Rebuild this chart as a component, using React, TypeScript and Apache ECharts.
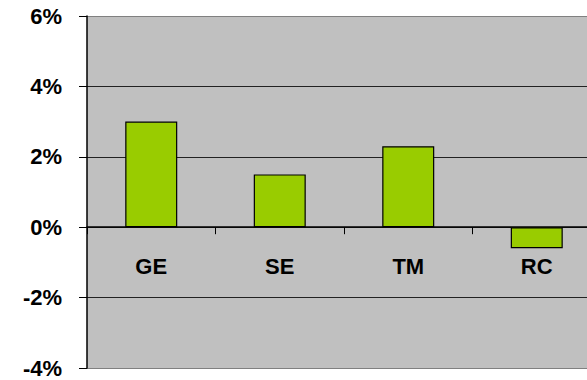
import React, { useEffect, useRef } from "react";
import * as echarts from "echarts";

const categories = ["GE", "SE", "TM", "RC"];
const values = [3.0, 1.5, 2.3, -0.6];
const yMin = -4;
const yMax = 6;
const yStep = 2;

const FONT = "'Liberation Sans', Arial, sans-serif";

export default function App() {
  const ref = useRef<HTMLDivElement>(null);

  useEffect(() => {
    if (!ref.current) return;
    const chart = echarts.init(ref.current, undefined, { renderer: "svg" });
    chart.setOption({
      animation: false,
      backgroundColor: "#ffffff",
      grid: {
        left: 87,
        top: 16,
        width: 514,
        height: 352,
        show: true,
        backgroundColor: "#c0c0c0",
        borderWidth: 0,
        containLabel: false,
        outerBoundsMode: "none",
      },
      xAxis: {
        type: "category",
        data: categories,
        axisLine: { show: true, onZero: true, lineStyle: { color: "#000", width: 1.5 } },
        axisTick: { show: true, length: 7, lineStyle: { color: "#000", width: 1 } },
        axisLabel: {
          // labels sit just under the zero line, inside the plot
          margin: -113,
          color: "#000",
          fontFamily: FONT,
          fontWeight: "bold",
          fontSize: 22,
        },
        splitLine: { show: false },
      },
      yAxis: {
        type: "value",
        min: yMin,
        max: yMax,
        interval: yStep,
        axisLine: { show: true, lineStyle: { color: "#000", width: 1.5 } },
        axisTick: { show: true, length: 8, lineStyle: { color: "#000", width: 1 } },
        axisLabel: {
          formatter: "{value}%",
          margin: 25,
          color: "#000",
          fontFamily: FONT,
          fontWeight: "bold",
          fontSize: 22,
        },
        splitLine: {
          show: true,
          lineStyle: {
            color: ["#808080", "#222", "#222", "#222", "#222", "#808080"],
            width: 1.2,
          },
        },
      },
      series: [
        {
          type: "bar",
          data: values,
          barWidth: 52,
          itemStyle: { color: "#99cc00", borderColor: "#000", borderWidth: 1.2 },
        },
      ],
    });
    return () => chart.dispose();
  }, []);

  return (
    <div
      ref={ref}
      style={{ position: "fixed", left: 0, top: 0, width: 587, height: 380 }}
    />
  );
}
